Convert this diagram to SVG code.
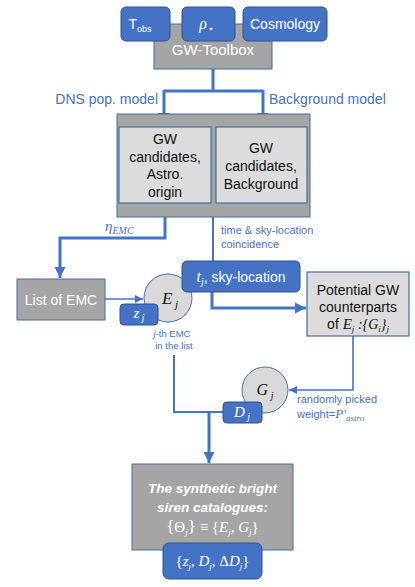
<svg xmlns="http://www.w3.org/2000/svg" width="415" height="587" viewBox="0 0 415 587">
<defs>
<style>
.blue{fill:#4472C4;stroke:#2F528F;stroke-width:1}
.gray{fill:#A5A5A5;stroke:#41719C;stroke-width:1}
.light{fill:#DCDCDC;stroke:#41719C;stroke-width:1.2}
.circ{fill:#D9D9D9;stroke:#41719C;stroke-width:1}
.w{fill:#fff;font-family:"Liberation Sans",Arial,sans-serif}
.k{fill:#111;font-family:"Liberation Sans",Arial,sans-serif;font-size:14px}
.lbl{fill:#4472C4;font-family:"Liberation Sans",Arial,sans-serif}
.m{font-family:"Liberation Serif","Times New Roman",serif;font-style:italic}
.thick{fill:none;stroke:#4472C4;stroke-width:3}
.mid{fill:none;stroke:#4472C4;stroke-width:2}
.thin{fill:none;stroke:#4472C4;stroke-width:1.6}
</style>
<marker id="ah" markerUnits="userSpaceOnUse" markerWidth="12" markerHeight="12" viewBox="0 0 12 12" refX="11" refY="6" orient="auto">
<path d="M0,0.5 L11,6 L0,11.5 Z" fill="#4472C4"/>
</marker>
<marker id="as" markerUnits="userSpaceOnUse" markerWidth="9" markerHeight="9" viewBox="0 0 9 9" refX="8" refY="4.5" orient="auto">
<path d="M0,0.5 L8,4.5 L0,8.5 Z" fill="#4472C4"/>
</marker>
</defs>

<g id="connectors">
<path class="thick" d="M213,69 V91 M164,91 H263"/>
<path class="thick" d="M164,90 V124" marker-end="url(#ah)"/>
<path class="thick" d="M263,90 V124" marker-end="url(#ah)"/>
<path class="thick" d="M165,217 V238 H60 V278" marker-end="url(#ah)"/>
<path class="mid" d="M213,217 V262"/>
<path class="thick" d="M212,292 V308 H306" marker-end="url(#ah)"/>
<path class="thin" d="M105,299 H143" marker-end="url(#as)"/>
<path class="thin" d="M353,336 V390 H289" marker-end="url(#as)"/>
<path class="mid" d="M174,355 V412 H223"/>
<path class="thick" d="M209,412 V463" marker-end="url(#ah)"/>
</g>

<g id="gw-toolbox">
<rect class="gray" x="154" y="24" width="118" height="45"/>
<text class="w" x="213" y="55" font-size="15" text-anchor="middle">GW-Toolbox</text>
</g>
<g id="tobs">
<rect class="blue" x="121" y="7" width="49" height="34" rx="5"/>
<text class="w" x="140" y="29" font-size="14" text-anchor="middle">T<tspan font-size="9" dy="3">obs</tspan></text>
</g>
<g id="rho">
<rect class="blue" x="182" y="7" width="53" height="34" rx="5"/>
<text class="w m" x="206" y="29" font-size="16" text-anchor="middle">ρ<tspan font-size="10" dy="3">⋆</tspan></text>
</g>
<g id="cosmology">
<rect class="blue" x="243" y="7" width="84" height="34" rx="5"/>
<text class="w" x="285" y="29" font-size="14" text-anchor="middle">Cosmology</text>
</g>

<text class="lbl" x="158" y="104" font-size="14" text-anchor="end">DNS pop. model</text>
<text class="lbl" x="269" y="104" font-size="14">Background model</text>

<g id="container">
<rect class="gray" x="117" y="114" width="193" height="103"/>
</g>
<g id="gw-astro">
<rect class="light" x="119" y="127" width="92" height="76"/>
<text class="k" text-anchor="middle"><tspan x="165" y="144">GW</tspan><tspan x="165" y="162">candidates,</tspan><tspan x="165" y="179">Astro.</tspan><tspan x="165" y="197">origin</tspan></text>
</g>
<g id="gw-background">
<rect class="light" x="216" y="127" width="91" height="76"/>
<text class="k" text-anchor="middle"><tspan x="261" y="153">GW</tspan><tspan x="261" y="171">candidates,</tspan><tspan x="261" y="189">Background</tspan></text>
</g>

<text class="lbl m" x="105" y="231" font-size="15">η<tspan font-size="10" dy="3">EMC</tspan></text>
<text class="lbl" font-size="11"><tspan x="221" y="234">time &amp; sky-location</tspan><tspan x="221" y="248">coincidence</tspan></text>

<g id="list-emc">
<rect class="gray" x="17" y="279" width="88" height="41"/>
<text class="w" x="61" y="305" font-size="14" text-anchor="middle">List of EMC</text>
</g>

<g id="ej">
<circle class="circ" cx="168" cy="298" r="24"/>
<text class="m" x="170" y="304" font-size="17" text-anchor="middle" fill="#111">E<tspan font-size="11" dy="4"> j</tspan></text>
</g>
<g id="zj">
<rect class="blue" x="120" y="304" width="38" height="21" rx="4"/>
<text class="w m" x="139" y="318" font-size="15" text-anchor="middle">z<tspan font-size="10" dy="3"> j</tspan></text>
</g>
<text class="lbl" font-size="9.5" text-anchor="middle"><tspan x="172" y="337"><tspan font-style="italic">j</tspan>-th EMC</tspan><tspan x="174" y="349">in the list</tspan></text>

<g id="tj">
<rect class="blue" x="182" y="261" width="118" height="31" rx="5"/>
<text class="w" x="241" y="282" font-size="14" text-anchor="middle"><tspan class="m" font-size="16">t</tspan><tspan class="m" font-size="10" dy="3">j</tspan><tspan dy="-3">, sky-location</tspan></text>
</g>

<g id="potential">
<rect class="light" x="307" y="272" width="102" height="64"/>
<text class="k" text-anchor="middle"><tspan x="358" y="295">Potential GW</tspan><tspan x="358" y="312">counterparts</tspan><tspan x="358" y="329">of <tspan class="m" font-size="15">E</tspan><tspan class="m" font-size="9" dy="3">j</tspan><tspan class="m" dy="-3"> :{G</tspan><tspan class="m" font-size="9" dy="3">i</tspan><tspan class="m" dy="-3">}</tspan><tspan class="m" font-size="9" dy="3">j</tspan></tspan></text>
</g>

<g id="gj">
<circle class="circ" cx="265" cy="390" r="23"/>
<text class="m" x="265" y="395" font-size="16" text-anchor="middle" fill="#111">G<tspan font-size="10" dy="4"> j</tspan></text>
</g>
<g id="dj">
<rect class="blue" x="223" y="402" width="39" height="21" rx="4"/>
<text class="w m" x="242" y="417" font-size="15" text-anchor="middle">D<tspan font-size="10" dy="3"> j</tspan></text>
</g>
<text class="lbl" font-size="11"><tspan x="297" y="403">randomly picked</tspan><tspan x="297" y="418">weight=<tspan class="m" font-size="13">P′</tspan><tspan class="m" font-size="9" dy="3">astro</tspan></tspan></text>

<g id="catalogue">
<rect class="gray" x="132" y="464" width="161" height="86"/>
<text class="w" font-size="13.5" font-weight="bold" font-style="italic" text-anchor="middle"><tspan x="212.5" y="493">The synthetic bright</tspan><tspan x="212.5" y="512">siren catalogues:</tspan></text>
<text class="w m" x="212.5" y="532" font-size="15" text-anchor="middle"><tspan font-style="normal" font-size="17">{</tspan><tspan font-style="normal">Θ</tspan><tspan font-size="9" dy="3">j</tspan><tspan font-style="normal" font-size="17" dy="-3">}</tspan><tspan font-style="normal"> ≡ {</tspan>E<tspan font-size="9" dy="3">j</tspan><tspan dy="-3">, G</tspan><tspan font-size="9" dy="3">j</tspan><tspan font-style="normal" dy="-3">}</tspan></text>
</g>
<g id="result">
<rect class="blue" x="163" y="543" width="99" height="36" rx="6"/>
<text class="w m" x="212.5" y="566" font-size="15" text-anchor="middle"><tspan font-style="normal">{</tspan>z<tspan font-size="9" dy="3">j</tspan><tspan dy="-3">, D</tspan><tspan font-size="9" dy="3">j</tspan><tspan dy="-3">, </tspan><tspan font-style="normal">Δ</tspan>D<tspan font-size="9" dy="3">j</tspan><tspan font-style="normal" dy="-3">}</tspan></text>
</g>
</svg>
